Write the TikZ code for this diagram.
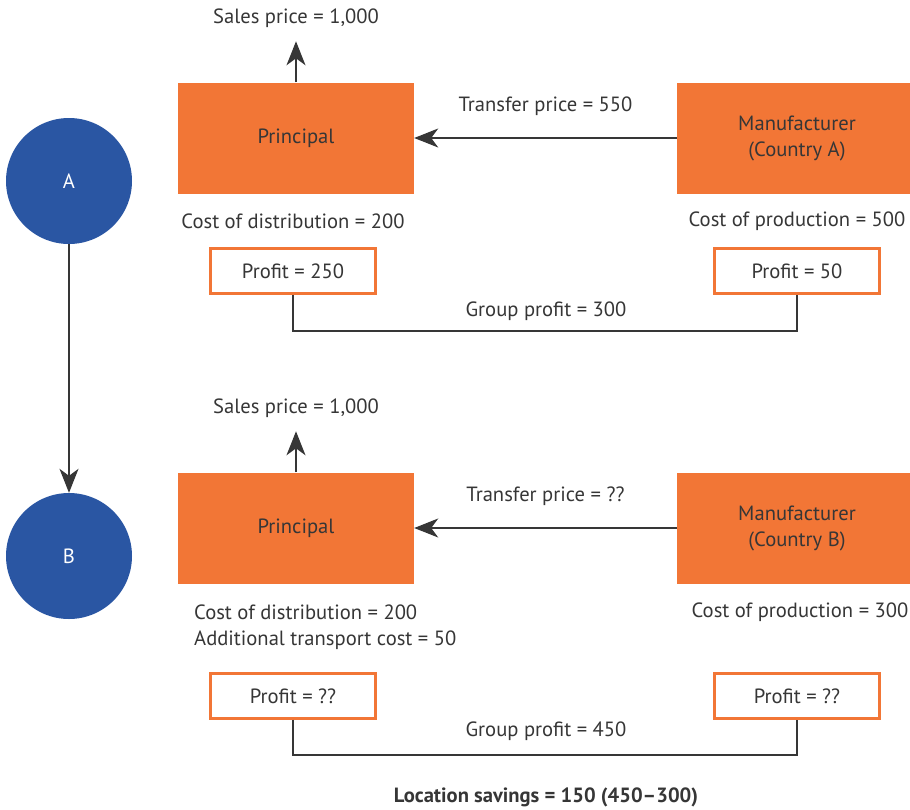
\documentclass[tikz,border=0pt]{standalone}
\usepackage{fontspec}
\setmainfont{PT Sans}
\usetikzlibrary{arrows.meta,positioning}
\definecolor{boxorange}{HTML}{F27636}
\definecolor{stageblue}{HTML}{2A56A3}
\definecolor{inkgrey}{HTML}{363636}
\tikzset{
  unit/.style={fill=boxorange, minimum width=236pt, minimum height=111pt, align=center, text=inkgrey, font=\fontsize{20.6}{26}\selectfont},
  profitbox/.style={draw=boxorange, line width=2.5pt, fill=white, minimum width=165pt, minimum height=45pt, text=inkgrey, font=\fontsize{20.6}{26}\selectfont},
  stage/.style={circle, fill=stageblue, minimum size=126pt, text=white, font=\fontsize{20.6}{26}\selectfont},
  lbl/.style={text=inkgrey, font=\fontsize{20.6}{26}\selectfont, inner sep=0pt},
  edge/.style={-{Stealth[length=24pt, width=19pt, inset=7pt]}, inkgrey, line width=1.3pt},
  link/.style={inkgrey, line width=1.3pt}
}

\begin{document}
\begin{tikzpicture}[x=1pt, y=-1pt]
\useasboundingbox (0,0) rectangle (910,809);

% stages
\node[stage] (sa) at (69,181) {A};
\node[stage] (sb) at (69,556) {B};
\draw[edge] (sa) -- (sb);

% --- case A ---
\node[unit] (pa) at (296,138) {Principal};
\node[unit, minimum width=240pt] (ma) at (797,138) {Manufacturer\\(Country A)};
\node[lbl] (spa) at (296,18) {Sales price = 1,000};
\draw[edge] (pa.north) -- ++(0,-41);
\draw[edge] (ma) -- node[lbl, above=22pt] {Transfer price = 550} (pa);
\node[lbl] (cda) at (293,221) {Cost of distribution = 200};
\node[lbl] (cpa) at (797,221) {Cost of production = 500};
\node[profitbox] (ppa) at (293,271) {Profit = 250};
\node[profitbox] (pma) at (797,271) {Profit = 50};
\draw[link] (ppa.south) |- (pma.south |- 0,331) -- (pma.south);
\node[lbl] at (546,311) {Group profit = 300};

% --- case B ---
\node[unit] (pb) at (296,528) {Principal};
\node[unit, minimum width=240pt] (mb) at (797,528) {Manufacturer\\(Country B)};
\node[lbl] (spb) at (296,408) {Sales price = 1,000};
\draw[edge] (pb.north) -- ++(0,-41);
\draw[edge] (mb) -- node[lbl, above=22pt] {Transfer price = ??} (pb);
\node[lbl, anchor=west, align=left] (cdb) at (194,627) {Cost of distribution = 200\\Additional transport cost = 50};
\node[lbl] (cpb) at (800,612) {Cost of production = 300};
\node[profitbox] (ppb) at (293,696) {Profit = ??};
\node[profitbox] (pmb) at (797,696) {Profit = ??};
\draw[link] (ppb.south) |- (pmb.south |- 0,755) -- (pmb.south);
\node[lbl] at (546,731) {Group profit = 450};

\node[lbl, font=\fontsize{20.6}{26}\selectfont\bfseries] (save) at (546,797) {Location savings = 150 (450–300)};
\end{tikzpicture}
\end{document}
